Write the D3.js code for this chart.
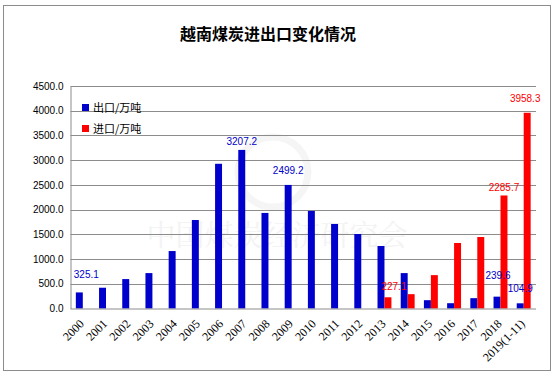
<!DOCTYPE html>
<html>
<head>
<meta charset="utf-8">
<script src="https://cdn.jsdelivr.net/npm/d3@7"></script>
<style>
  body { margin: 0; background: #fff; }
</style>
</head>
<body>
<svg id="chart" width="554" height="376"></svg>
<script>
// data
var years = ["2000", "2001", "2002", "2003", "2004", "2005", "2006", "2007", "2008", "2009",
    "2010", "2011", "2012", "2013", "2014", "2015", "2016", "2017", "2018", "2019(1-11)"];
var exportVals = [325.1, 420, 595, 716, 1162, 1790, 2927, 3207.2, 1933, 2499.2,
    1973, 1710, 1507, 1264, 716, 168, 107, 209, 239.6, 104.9];
var importVals = [0, 0, 0, 0, 0, 0, 0, 0, 0, 0,
    0, 0, 0, 227.1, 290, 675, 1325, 1446, 2285.7, 3958.3];
var yTicks = [0, 500, 1000, 1500, 2000, 2500, 3000, 3500, 4000, 4500];
var exportLabels = [0, 7, 9, 18, 19];
var importLabels = [13, 18, 19];

var blue = "#0000cc", red = "#ff0000";

// hand-placed label nudges, as in the original (dx, dy from bar top)
var expNudge = { 0: [7, -14], 7: [0, -5], 9: [0, -11], 18: [1, -18], 19: [0, -11] };
var impNudge = { 13: [6, -7], 18: [0, -4], 19: [-2, -11] };

var svg = d3.select("#chart");

// outer frame
svg.append("rect")
    .attr("x", 3.5).attr("y", 5.5)
    .attr("width", 547).attr("height", 365)
    .attr("fill", "#fff")
    .attr("stroke", "#8c8c8c");

// title
svg.append("text")
    .attr("x", 268).attr("y", 40)
    .attr("text-anchor", "middle")
    .style("font-family", "'Noto Sans CJK SC'")
    .style("font-weight", "bold")
    .style("font-size", "16px")
    .text("越南煤炭进出口变化情况");

var plotLeft = 70.5, plotRight = 536, plotTop = 86, plotBottom = 308.5;

var x = d3.scaleBand().domain(years).range([plotLeft, plotRight]).paddingInner(0.4).paddingOuter(0.23);
var y = d3.scaleLinear().domain([0, 4500]).range([plotBottom, plotTop]);
var sub = d3.scaleBand().domain(["exp", "imp"]).range([0, x.bandwidth()]);

// watermark
svg.append("text")
    .attr("x", 277).attr("y", 246)
    .attr("text-anchor", "middle")
    .style("font-family", "'Noto Serif CJK SC', 'Noto Sans CJK SC'")
    .style("font-size", "29px")
    .style("fill", "#f3f3f3")
    .text("中国煤炭经济研究会");
svg.append("circle")
    .attr("cx", 273).attr("cy", 172).attr("r", 35)
    .attr("fill", "none").attr("stroke", "#f5f5f5").attr("stroke-width", 7);

// grid
svg.append("g").selectAll("line")
    .data(yTicks.slice(1))
    .enter().append("line")
    .attr("x1", plotLeft).attr("x2", plotRight)
    .attr("y1", function (d) { return Math.round(y(d)) + 0.5; })
    .attr("y2", function (d) { return Math.round(y(d)) + 0.5; })
    .attr("stroke", "#8c8c8c");

// y axis
var yAxis = svg.append("g")
    .attr("transform", "translate(" + plotLeft + ",0)")
    .call(d3.axisLeft(y).tickValues(yTicks).tickSize(0).tickPadding(7)
        .tickFormat(function (d) { return d.toFixed(1); }));
yAxis.select(".domain").attr("stroke", "#8c8c8c");
yAxis.selectAll("text")
    .style("font-family", "'Liberation Sans'")
    .style("font-size", "10px")
    .style("fill", "#000");

// bars
svg.append("g").selectAll("rect")
    .data(exportVals)
    .enter().append("rect")
    .attr("x", function (d, i) { return x(years[i]) + sub("exp"); })
    .attr("y", function (d) { return y(d); })
    .attr("width", sub.bandwidth())
    .attr("height", function (d) { return y(0) - y(d); })
    .attr("fill", blue);

svg.append("g").selectAll("rect")
    .data(importVals)
    .enter().append("rect")
    .attr("x", function (d, i) { return x(years[i]) + sub("imp"); })
    .attr("y", function (d) { return y(d); })
    .attr("width", sub.bandwidth())
    .attr("height", function (d) { return y(0) - y(d); })
    .attr("fill", red);

// x axis
var xAxis = svg.append("g")
    .attr("transform", "translate(0," + plotBottom + ")")
    .call(d3.axisBottom(x).tickSize(0).tickPadding(0));
xAxis.select(".domain").attr("stroke", "#8c8c8c").attr("d", "M" + plotLeft + ",0.5H" + plotRight);
xAxis.selectAll("text")
    .attr("text-anchor", "end")
    .attr("dy", "0")
    .attr("transform", "translate(2,16) rotate(-45)")
    .style("font-family", "'Liberation Serif'")
    .style("font-size", "12px")
    .style("fill", "#000");

// data labels
svg.append("g").selectAll("text")
    .data(exportLabels)
    .enter().append("text")
    .attr("x", function (i) { return x(years[i]) + sub("exp") + sub.bandwidth() / 2 + expNudge[i][0]; })
    .attr("y", function (i) { return y(exportVals[i]) + expNudge[i][1]; })
    .attr("text-anchor", "middle")
    .style("font-family", "'Liberation Sans'")
    .style("font-size", "10px")
    .style("fill", blue)
    .text(function (i) { return exportVals[i].toFixed(1); });

svg.append("g").selectAll("text")
    .data(importLabels)
    .enter().append("text")
    .attr("x", function (i) { return x(years[i]) + sub("imp") + sub.bandwidth() / 2 + impNudge[i][0]; })
    .attr("y", function (i) { return y(importVals[i]) + impNudge[i][1]; })
    .attr("text-anchor", "middle")
    .style("font-family", "'Liberation Sans'")
    .style("font-size", "10px")
    .style("fill", red)
    .text(function (i) { return importVals[i].toFixed(1); });

// legend
var legend = svg.append("g").attr("transform", "translate(82,104)");
[["出口/万吨", blue], ["进口/万吨", red]].forEach(function (item, i) {
    legend.append("rect")
        .attr("x", 0).attr("y", i * 21)
        .attr("width", 7).attr("height", 7)
        .attr("fill", item[1]);
    legend.append("text")
        .attr("x", 11).attr("y", i * 21 + 8)
        .style("font-family", "'Noto Sans CJK SC'")
        .style("font-size", "11px")
        .style("fill", "#000")
        .text(item[0]);
});
</script>
</body>
</html>
